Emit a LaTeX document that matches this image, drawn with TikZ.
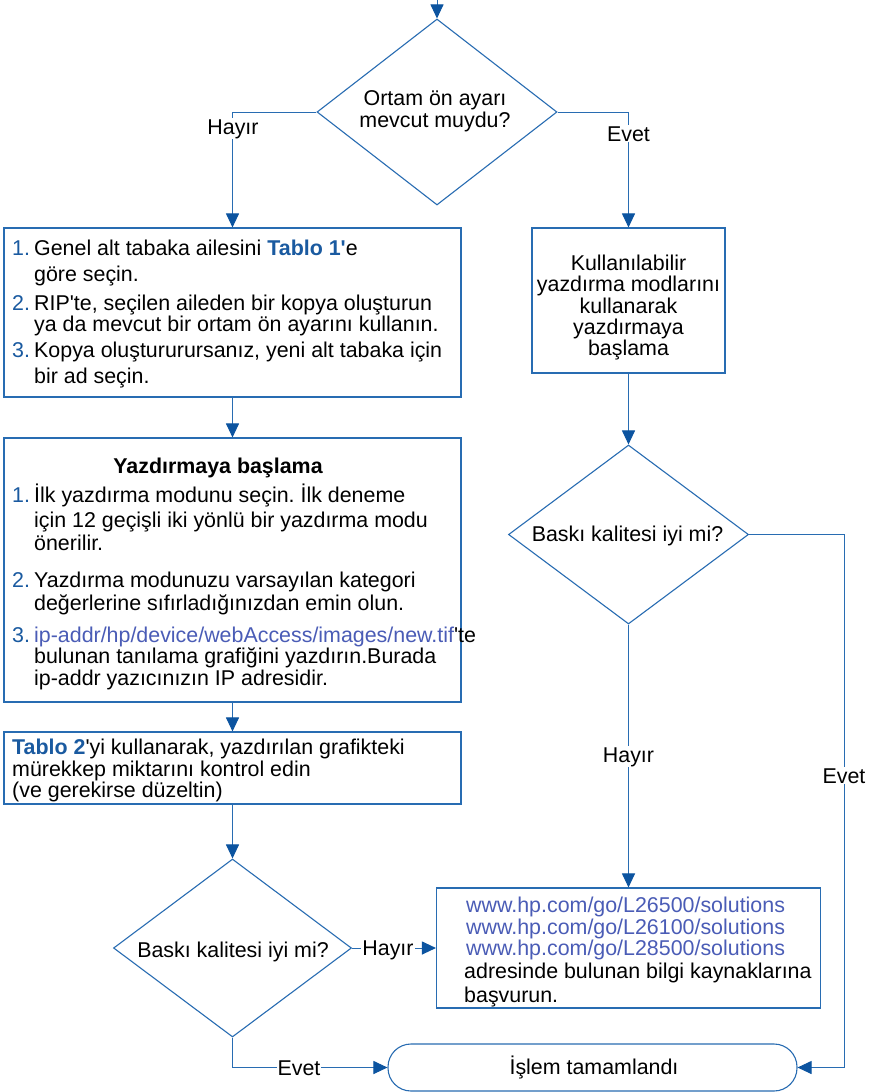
\documentclass[tikz,border=0pt]{standalone}
\usepackage{fontspec}
\setmainfont{Liberation Sans}
\usetikzlibrary{arrows.meta,shapes.geometric}
\definecolor{flowline}{RGB}{40,108,178}
\definecolor{arrowfill}{RGB}{12,84,160}
\definecolor{numblue}{RGB}{26,90,160}
\definecolor{linkblue}{RGB}{74,92,182}
\newcommand{\apos}{\textquotesingle}

\begin{document}
\frenchspacing
\begin{tikzpicture}[x=1pt,y=-1pt,
  shapeline/.style={draw=flowline, line width=1.1pt, inner sep=0pt},
  stepbox/.style={shapeline, rectangle},
  decision/.style={shapeline, diamond},
  terminal/.style={shapeline, rectangle, rounded corners=23pt},
  conn/.style={draw=flowline, line width=1pt,
    -{Triangle[length=14pt,width=13pt,color=arrowfill,fill=arrowfill]}},
  txt/.style={inner sep=0pt, anchor=base west, font=\fontsize{21.4}{23}\selectfont},
  ctxt/.style={txt, anchor=base},
  num/.style={txt, text=numblue},
  lbl/.style={fill=white, inner sep=1pt, anchor=base, font=\fontsize{21.4}{23}\selectfont},
]
\useasboundingbox (0,0) rectangle (868,1092);
\fill[white] (0,0) rectangle (868,1092);

% ---- shapes ----
\node[decision, minimum width=240pt, minimum height=186pt] (dA) at (437,112) {};
\node[stepbox, minimum width=457pt, minimum height=169pt] (box1) at (232.5,312.5) {};
\node[stepbox, minimum width=457pt, minimum height=264pt] (box2) at (232.5,570) {};
\node[stepbox, minimum width=457pt, minimum height=72pt] (box3) at (232.5,768) {};
\node[decision, minimum width=238pt, minimum height=178pt] (dC) at (232.5,948) {};
\node[stepbox, minimum width=193pt, minimum height=145pt] (boxR) at (628.5,300.5) {};
\node[decision, minimum width=240pt, minimum height=179pt] (dB) at (628.5,534.5) {};
\node[stepbox, minimum width=384pt, minimum height=120pt] (urls) at (628.5,948) {};
\node[terminal, minimum width=409pt, minimum height=47pt] (done) at (592.5,1067.5) {};

% ---- connectors ----
\coordinate (entry) at (437,0);
\draw[conn] (entry) -- (dA.north);
\draw[conn] (dA.west) -| (box1.north);
\draw[conn] (dA.east) -| (boxR.north);
\draw[conn] (box1.south) -- (box2.north);
\draw[conn] (box2.south) -- (box3.north);
\draw[conn] (box3.south) -- (dC.north);
\draw[conn] (boxR.south) -- (dB.north);
\draw[conn] (dB.south) -- (urls.north);
\draw[conn] (dC.east) -- (urls.west);
\draw[conn] (dC.south) |- (done.west);
\draw[conn] (dB.east) -- ++(95.5,0) |- (done.east);

% ---- connector labels ----
\node[lbl] (noA) at (233,134) {Hayır};
\node[lbl] (yesA) at (628.5,141) {Evet};
\node[lbl] (noB) at (628.5,762) {Hayır};
\node[lbl] (yesB) at (844,783) {Evet};
\node[lbl] (noC) at (388,955) {Hayır};
\node[lbl] (yesC) at (299,1075) {Evet};

% ---- decision texts ----
\node[ctxt] (qA1) at (435,105) {Ortam ön ayarı};
\node[ctxt] (qA2) at (435,127) {mevcut muydu?};
\node[ctxt] (qB) at (627.5,541) {Baskı kalitesi iyi mi?};
\node[ctxt] (qC) at (233,957) {Baskı kalitesi iyi mi?};

% ---- box 1 ----
\node[num] (b1n1) at (12,255) {1.};
\node[txt] (b1l1) at (34,255) {Genel alt tabaka ailesini \textcolor{numblue}{\textbf{Tablo 1\apos}}e};
\node[txt] (b1l2) at (34,281) {göre seçin.};
\node[num] (b1n2) at (12,310) {2.};
\node[txt] (b1l3) at (34,310) {RIP\apos te, seçilen aileden bir kopya oluşturun};
\node[txt] (b1l4) at (34,331) {ya da mevcut bir ortam ön ayarını kullanın.};
\node[num] (b1n3) at (12,357) {3.};
\node[txt] (b1l5) at (34,357) {Kopya oluştururursanız, yeni alt tabaka için};
\node[txt] (b1l6) at (34,383) {bir ad seçin.};

% ---- box 2 ----
\node[ctxt, font=\fontsize{21.4}{23}\selectfont\bfseries] (b2t) at (218,473) {Yazdırmaya başlama};
\node[num] (b2n1) at (12,502) {1.};
\node[txt] (b2l1) at (34,502) {İlk yazdırma modunu seçin. İlk deneme};
\node[txt] (b2l2) at (34,527) {için 12 geçişli iki yönlü bir yazdırma modu};
\node[txt] (b2l3) at (34,550) {önerilir.};
\node[num] (b2n2) at (12,587) {2.};
\node[txt] (b2l4) at (34,587) {Yazdırma modunuzu varsayılan kategori};
\node[txt] (b2l5) at (34,610) {değerlerine sıfırladığınızdan emin olun.};
\node[num] (b2n3) at (12,642) {3.};
\node[txt] (b2l6) at (34,642) {\textcolor{linkblue}{ip-addr/hp/device/webAccess/images/new.tif}\apos te};
\node[txt] (b2l7) at (34,663) {bulunan tanılama grafiğini yazdırın.Burada};
\node[txt] (b2l8) at (34,685) {ip-addr yazıcınızın IP adresidir.};

% ---- box 3 ----
\node[txt] (b3l1) at (12,754) {\textcolor{numblue}{\textbf{Tablo 2}}\apos yi kullanarak, yazdırılan grafikteki};
\node[txt] (b3l2) at (12,776) {mürekkep miktarını kontrol edin};
\node[txt] (b3l3) at (12,797) {(ve gerekirse düzeltin)};

% ---- right box ----
\node[ctxt] (bRl1) at (628.5,270.5) {Kullanılabilir};
\node[ctxt] (bRl2) at (628.5,291.5) {yazdırma modlarını};
\node[ctxt] (bRl3) at (628.5,313) {kullanarak};
\node[ctxt] (bRl4) at (628.5,334) {yazdırmaya};
\node[ctxt] (bRl5) at (628.5,355) {başlama};

% ---- support links ----
\node[txt, text=linkblue] (u1) at (466,912) {www.hp.com/go/L26500/solutions};
\node[txt, text=linkblue] (u2) at (466,934) {www.hp.com/go/L26100/solutions};
\node[txt, text=linkblue] (u3) at (466,955) {www.hp.com/go/L28500/solutions};
\node[txt] (u4) at (464,978) {adresinde bulunan bilgi kaynaklarına};
\node[txt] (u5) at (464,1002) {başvurun.};

% ---- end ----
\node[ctxt] (doneT) at (594,1074) {İşlem tamamlandı};
\end{tikzpicture}
\end{document}
